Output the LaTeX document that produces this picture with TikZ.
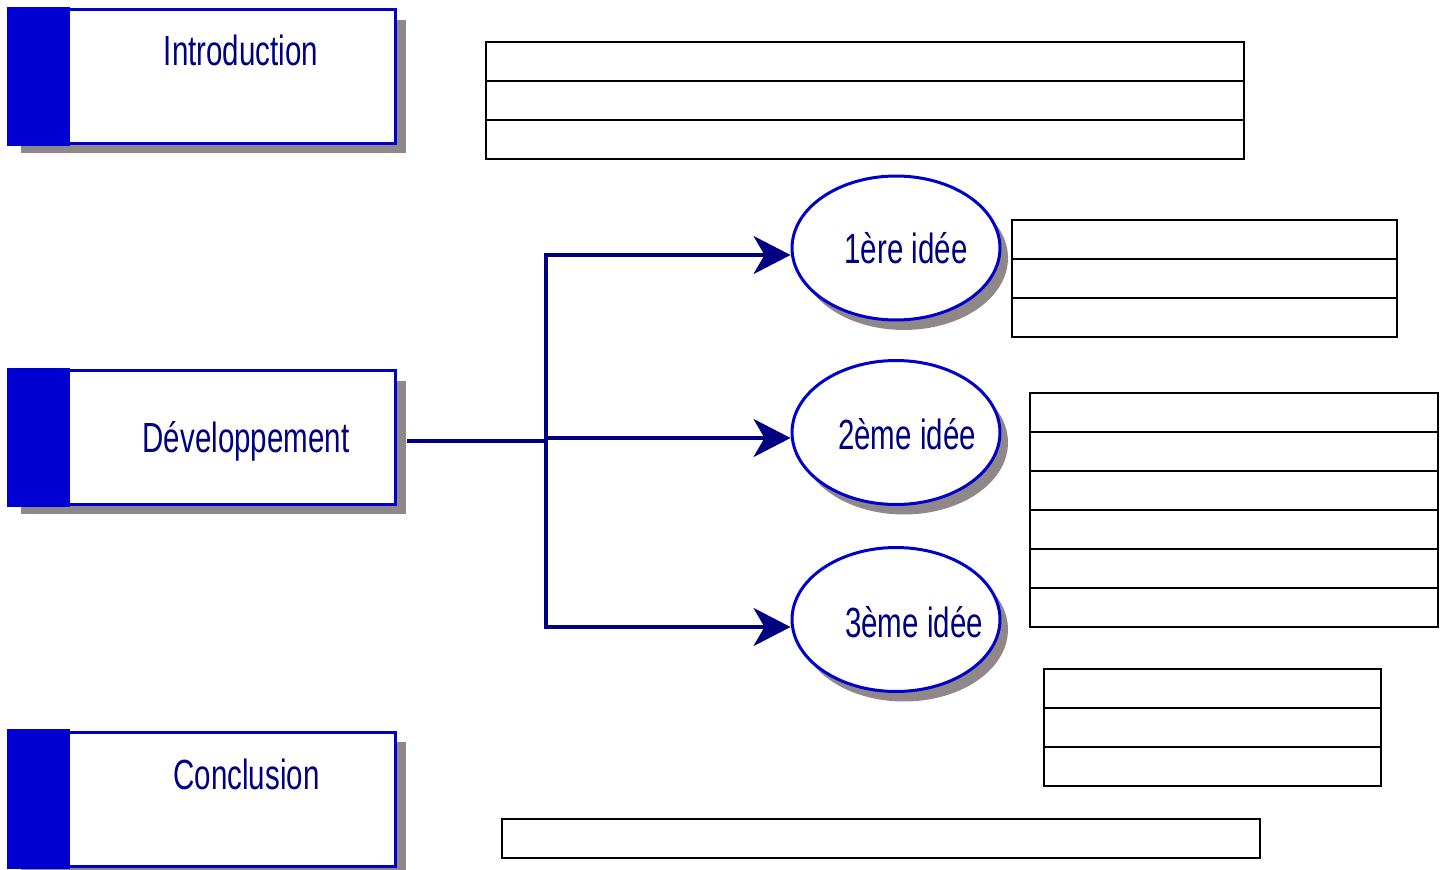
\documentclass[tikz,border=0pt]{standalone}
\usepackage{fontspec}
\setmainfont{Liberation Sans}[FakeStretch=0.7]
\usetikzlibrary{shapes.geometric,shadows,arrows.meta}
\definecolor{boxblue}{HTML}{0000CC}
\definecolor{barblue}{HTML}{0000D2}
\definecolor{inkblue}{HTML}{000080}
\definecolor{shadowgray}{HTML}{908888}
\tikzset{
  partbox/.style = {
    draw=boxblue, line width=0.06cm, fill=white, inner sep=0pt,
    minimum width=7.72cm, minimum height=2.68cm,
    drop shadow={shadow xshift=0.22cm, shadow yshift=-0.2cm, fill=shadowgray, opacity=1}
  },
  idea/.style = {
    ellipse, draw=boxblue, line width=0.06cm, fill=white, inner sep=0pt,
    minimum width=4.16cm, minimum height=2.88cm,
    drop shadow={shadow xshift=0.16cm, shadow yshift=-0.2cm, fill=shadowgray, opacity=1}
  },
  title/.style = {text=inkblue, font=\fontsize{24}{28}\selectfont, anchor=base, inner sep=0pt},
  link/.style = {draw=inkblue, line width=0.075cm},
  cell/.style = {draw=black, line width=0.04cm}
}
\tikzset{>={Stealth[length=0.74cm, width=0.76cm, inset=0.22cm]}}

\begin{document}
\begin{tikzpicture}[x=0.02cm, y=-0.02cm]
  \useasboundingbox (0,0) rectangle (1449,869);

  % the three parts
  \node (intro) at (202.5,76.5) [partbox] {};
  \node (dev)   at (202.5,437.5) [partbox] {};
  \node (concl) at (202.5,799) [partbox] {};
  \foreach \b in {intro,dev,concl} {%
    \fill[barblue] ([xshift=-0.03cm,yshift=0.03cm]\b.north west) rectangle ([xshift=1.24cm,yshift=-0.03cm]\b.south west);
  }
  \node[title] (introtext) at (241,65)  {Introduction};
  \node[title] (devtext)   at (246,452) {Développement};
  \node[title] (conctext)  at (246.5,789) {Conclusion};

  % the ideas
  \node (idea1) at (896,248)   [idea] {};
  \node (idea2) at (896,432.5) [idea] {};
  \node (idea3) at (896,619.5) [idea] {};
  \node[title] (idea1text) at (906,263) {1ère idée};
  \node[title] (idea2text) at (907,449) {2ème idée};
  \node[title] (idea3text) at (914,637) {3ème idée};

  \coordinate (devout) at (407,441);
  \coordinate (fork) at (546,441);
  \draw[link] (devout) -- (fork);
  \draw[link,->] (fork) |- ([yshift=-0.14cm]idea1.west);
  \draw[link,->] (fork) |- ([yshift=-0.11cm]idea2.west);
  \draw[link,->] (fork) |- ([yshift=-0.15cm]idea3.west);

  % empty tables to fill
  \foreach \x/\y/\w/\n in {486/42/758/3, 1012/220/385/3, 1030/393/408/6, 1044/669/337/3, 502/819/758/1} {%
    \foreach \r in {1,...,\n} {%
      \draw[cell] (\x,\y+39*\r-39) rectangle ++(\w,39);
    }
  }
\end{tikzpicture}
\end{document}
